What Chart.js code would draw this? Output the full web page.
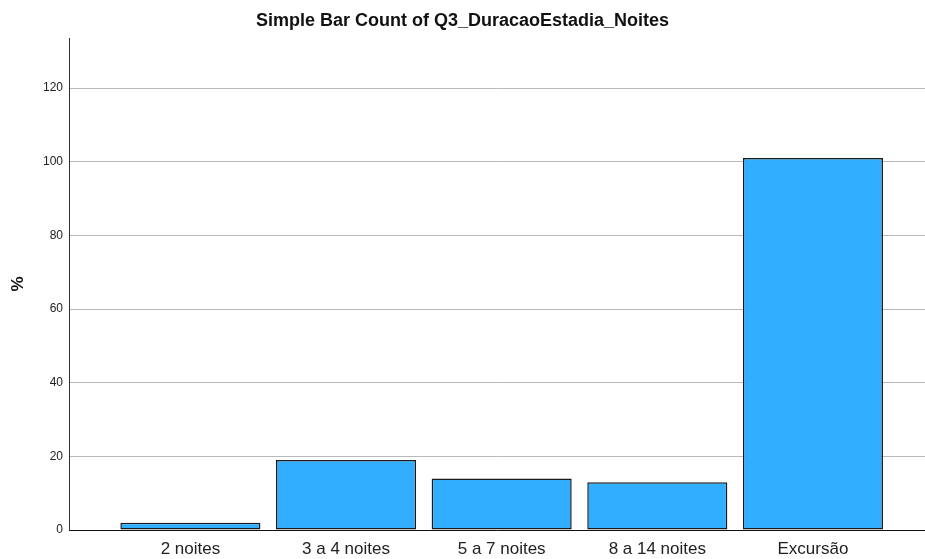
<!DOCTYPE html>
<html>
<head>
<meta charset="utf-8">
<script src="https://cdn.jsdelivr.net/npm/chart.js@4"></script>
<style>
  html, body { margin: 0; padding: 0; background: #fff; }
  #wrap { width: 925px; height: 559px; }
</style>
</head>
<body>
<div id="wrap"><canvas id="barChart"></canvas></div>
<script>
const categories = ['2 noites', '3 a 4 noites', '5 a 7 noites', '8 a 14 noites', 'Excursão'];
const percentValues = [2, 19, 14, 13, 101];
const yTicks = [0, 20, 40, 60, 80, 100, 120];

Chart.defaults.font.family = '"Liberation Sans", Arial, sans-serif';
Chart.defaults.color = '#222';

const ctxBar = document.getElementById('barChart');

new Chart(ctxBar, {
  type: 'bar',
  data: {
    datasets: [{
      label: '%',
      data: categories.map((c, i) => ({ x: i, y: percentValues[i] })),
      backgroundColor: '#31aeff',
      borderColor: '#1a1a1a',
      borderWidth: 1.5,
      borderSkipped: false,
      categoryPercentage: 1,
      barPercentage: 0.9
    }]
  },
  options: {
    responsive: true,
    maintainAspectRatio: false,
    animation: false,
    layout: { padding: 0 },
    plugins: {
      legend: { display: false },
      tooltip: { enabled: false },
      title: {
        display: true,
        text: 'Simple Bar Count of Q3_DuracaoEstadia_Noites',
        color: '#111',
        font: { size: 18, weight: 'bold' },
        padding: { top: 10, bottom: 6.4 }
      }
    },
    scales: {
      x: {
        type: 'linear',
        offset: false,
        min: -0.78,
        max: 4.72,
        grid: { display: false, drawTicks: false },
        border: { color: '#111', width: 1 },
        afterBuildTicks: (scale) => {
          scale.ticks = categories.map((c, i) => ({ value: i }));
        },
        afterFit: (scale) => { scale.height = 29; },
        ticks: {
          padding: 9,
          autoSkip: false,
          maxRotation: 0,
          font: { size: 17 },
          color: '#222',
          callback: (v) => categories[v]
        }
      },
      y: {
        min: 0,
        max: 133.6,
        afterBuildTicks: (scale) => {
          scale.ticks = yTicks.map(v => ({ value: v }));
        },
        afterFit: (scale) => { scale.width = 69; },
        grid: { color: '#b9b9b9', lineWidth: 1, drawTicks: false },
        border: { color: '#333', width: 1 },
        ticks: { padding: 6, font: { size: 12 }, color: '#222' },
        title: {
          display: true,
          text: '%',
          color: '#111',
          font: { size: 17, weight: 'bold' },
          padding: { top: 8, bottom: 0 }
        }
      }
    }
  }
});
</script>
</body>
</html>
